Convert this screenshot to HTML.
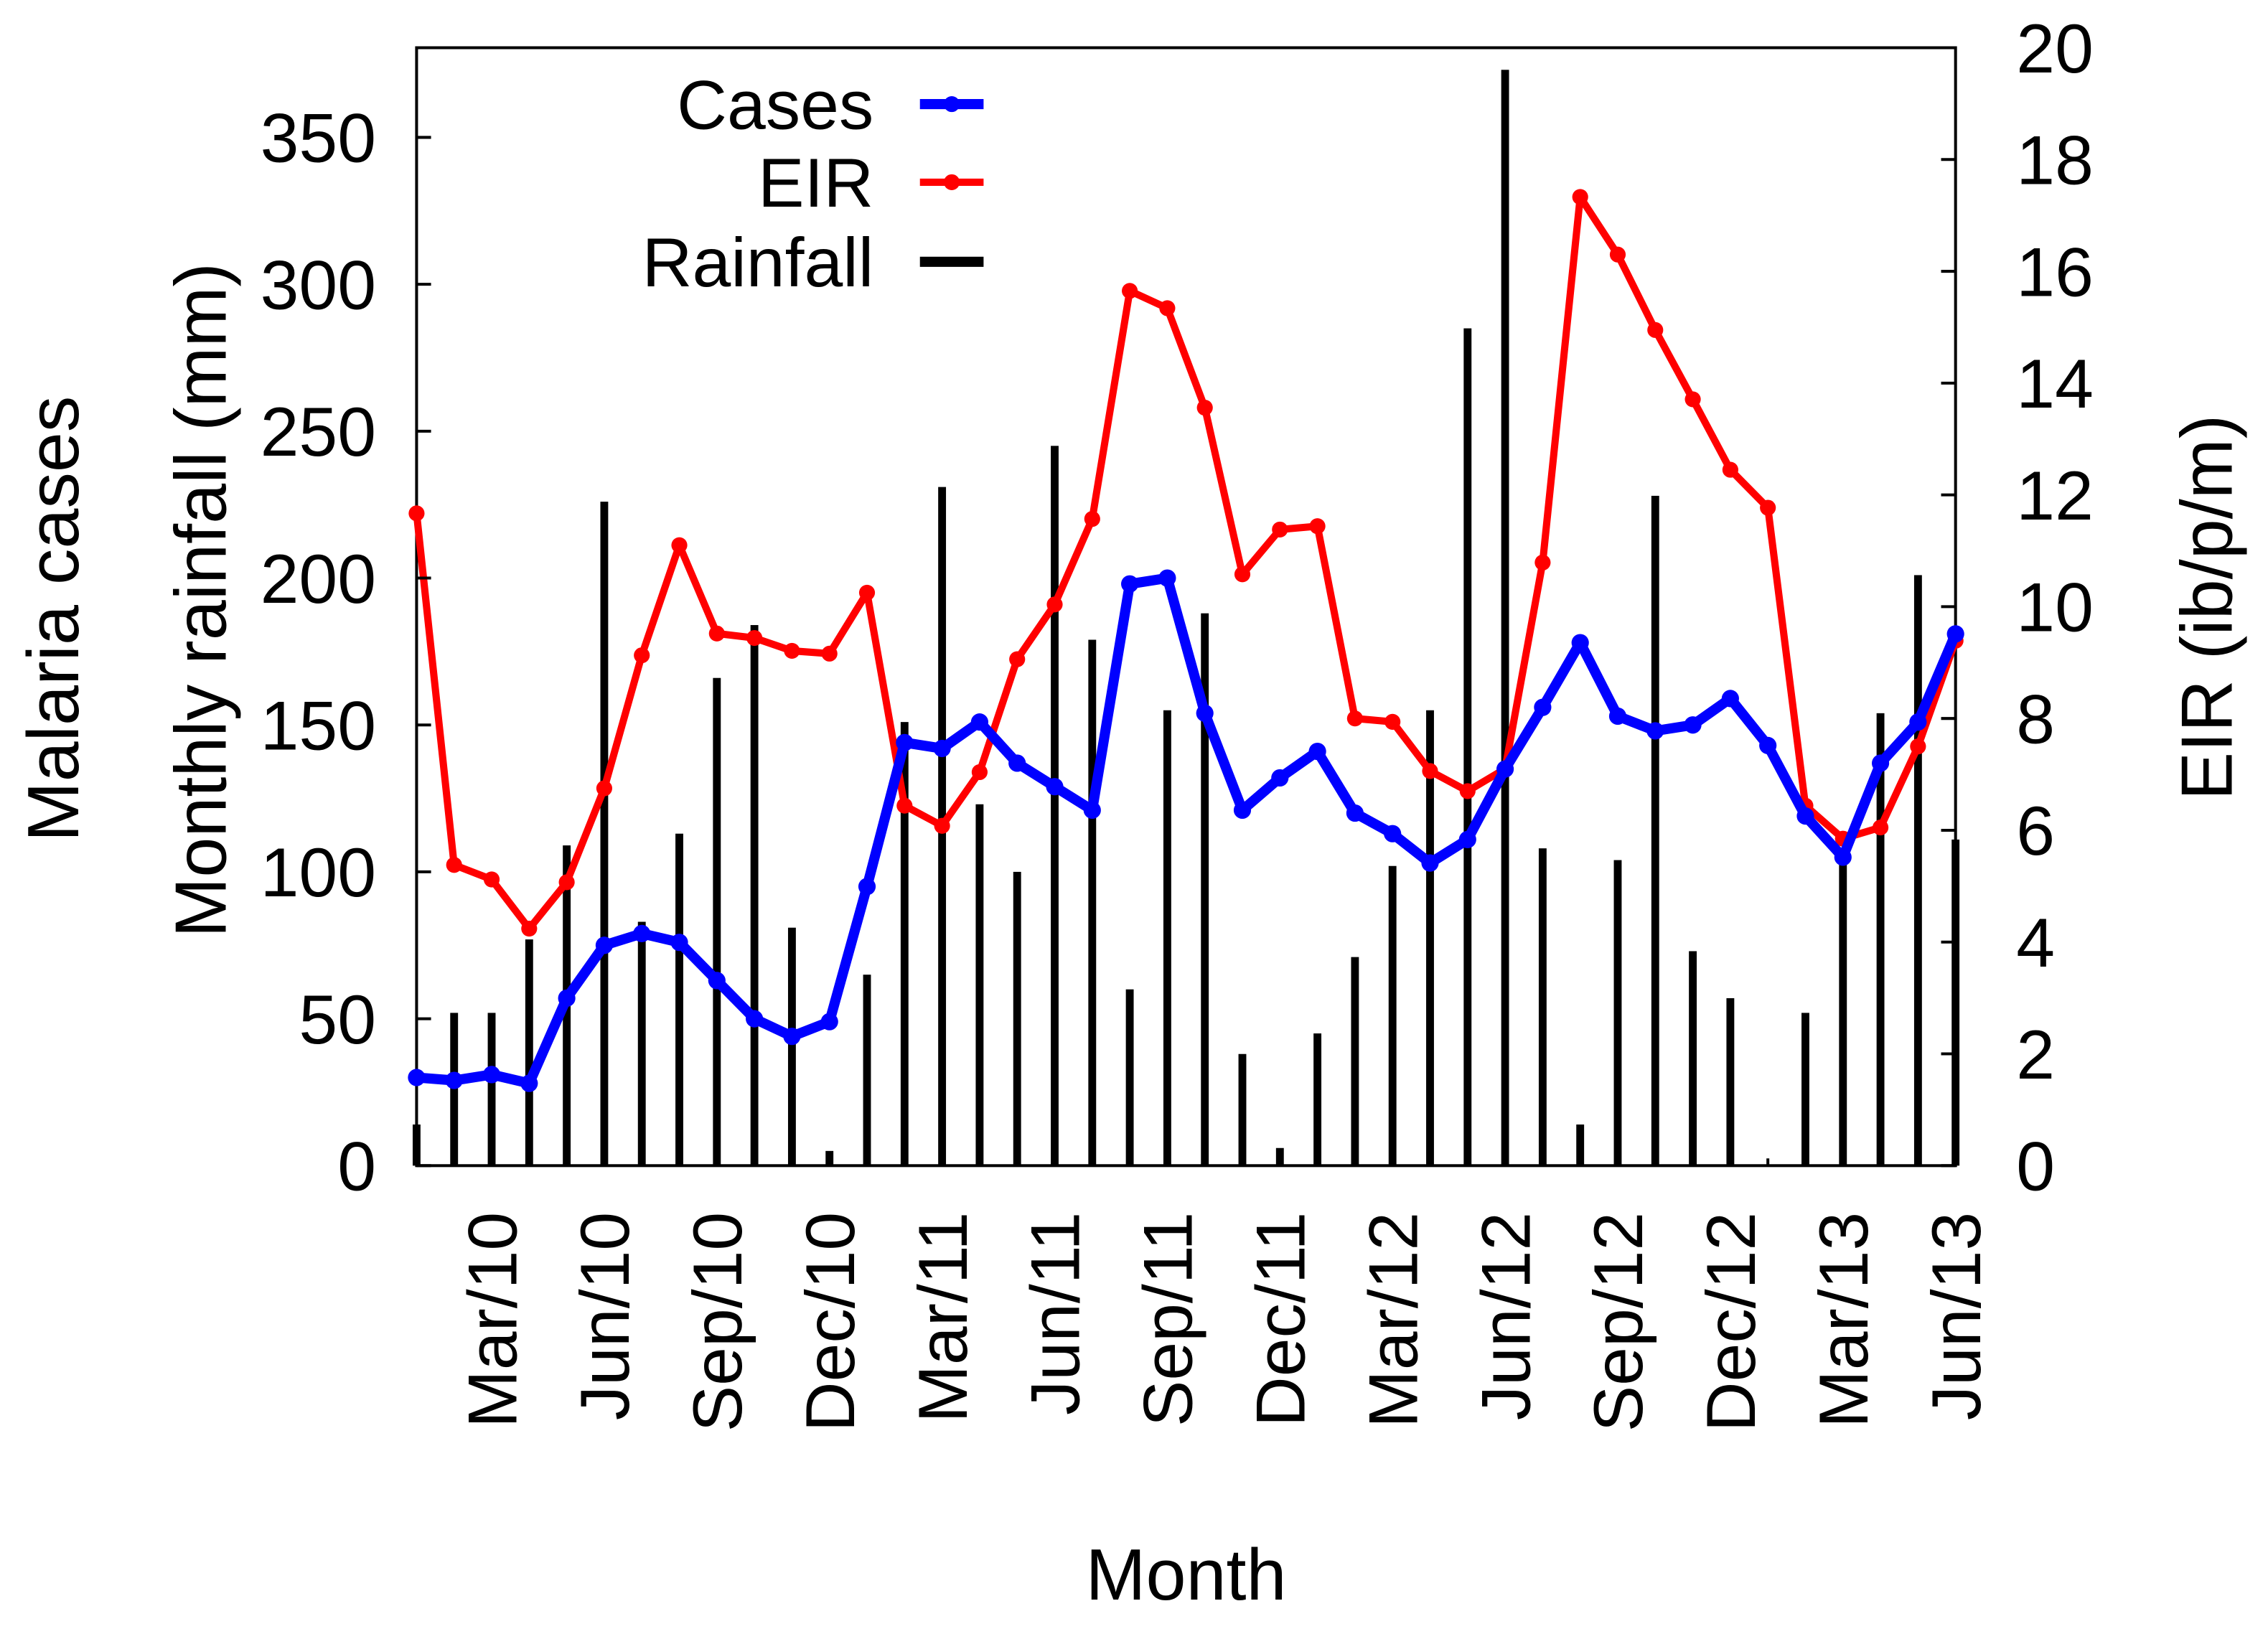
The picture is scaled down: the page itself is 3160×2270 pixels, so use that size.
<!DOCTYPE html>
<html><head><meta charset="utf-8"><style>
html,body{margin:0;padding:0;background:#fff}
svg{display:block}
text{font-family:"Liberation Sans",sans-serif;fill:#000}
</style></head><body>
<svg id="chart" width="3160" height="2270" viewBox="0 0 1568 1126.4" xmlns="http://www.w3.org/2000/svg">
<g id="bars"></g>
<g id="frame"></g>
<g id="eir"></g>
<g id="cases"></g>
<g id="axes"></g>
<g id="legend"></g>
</svg>
<script>
const months = ["Jan/10","Feb/10","Mar/10","Apr/10","May/10","Jun/10","Jul/10","Aug/10","Sep/10","Oct/10","Nov/10","Dec/10",
"Jan/11","Feb/11","Mar/11","Apr/11","May/11","Jun/11","Jul/11","Aug/11","Sep/11","Oct/11","Nov/11","Dec/11",
"Jan/12","Feb/12","Mar/12","Apr/12","May/12","Jun/12","Jul/12","Aug/12","Sep/12","Oct/12","Nov/12","Dec/12",
"Jan/13","Feb/13","Mar/13","Apr/13","May/13","Jun/13"];
const cases = [30,29,31,28,57,75,79,76,63,50,44,49,95,144,142,151,137,129,121,198,200,154,121,132,141,120,113,103,111,135,156,178,153,148,150,159,143,119,105,137,151,181];
const eir = [11.67,5.38,5.12,4.24,5.07,6.75,9.13,11.1,9.52,9.44,9.21,9.16,10.25,6.44,6.08,7.04,9.06,10.04,11.57,15.65,15.34,13.56,10.58,11.38,11.44,8.0,7.94,7.06,6.7,7.1,10.79,17.33,16.3,14.95,13.71,12.45,11.77,6.44,5.85,6.05,7.5,9.39];
const rainfall = [14,52,52,77,109,226,83,113,166,184,81,5,65,151,231,123,100,245,179,60,155,188,38,6,45,71,102,155,285,373,108,14,104,228,73,57,0,52,105,154,201,111];
const leftTicks = [0,50,100,150,200,250,300,350];
const rightTicks = [0,2,4,6,8,10,12,14,16,18,20];
const xLabelIdx = [2,5,8,11,14,17,20,23,26,29,32,35,38,41];

const L=288,R=1352,T=33,B=806;
const NS="http://www.w3.org/2000/svg";
const xs=i=>L+i*(R-L)/(months.length-1);
const yl=v=>B-v*(B-95)/350;
const yr=v=>B-v*(B-T)/20;
function mk(tag,attrs,parent,txt){const e=document.createElementNS(NS,tag);for(const k in attrs)e.setAttribute(k,attrs[k]);if(txt!==undefined)e.textContent=txt;document.getElementById(parent).appendChild(e);return e;}

rainfall.forEach((v,i)=>{
 const e=mk('rect',{x:xs(i)-2.7,y:yl(v),width:5.4,height:B-yl(v),fill:'#000'},'bars');
 
 
});
mk('rect',{x:L,y:T,width:R-L,height:B-T,fill:'none',stroke:'#000','stroke-width':2},'frame');

function series(vals,yf,g,color,w,r,name){
 const pts=vals.map((v,i)=>xs(i)+','+yf(v)).join(' ');
 mk('polyline',{points:pts,fill:'none',stroke:color,'stroke-width':w,'stroke-linejoin':'round'},g);
 vals.forEach((v,i)=>{const c=mk('circle',{cx:xs(i),cy:yf(v),r:r,fill:color},g);
  
  });
}
series(eir,yr,'eir','#ff0000',5,5.5,'eir-point');
series(cases,yl,'cases','#0000ff',7,6,'cases-point');

leftTicks.forEach(v=>{
 mk('line',{x1:L,x2:L+10,y1:yl(v),y2:yl(v),stroke:'#000','stroke-width':2},'axes');
 const t=mk('text',{x:L-28,y:yl(v)+17,'font-size':48,'text-anchor':'end'},'axes',v);
 
 
});
rightTicks.forEach(v=>{
 mk('line',{x1:R-10,x2:R,y1:yr(v),y2:yr(v),stroke:'#000','stroke-width':2},'axes');
 const t=mk('text',{x:R+42,y:yr(v)+17,'font-size':48},'axes',v);
 
 
});
months.forEach((m,i)=>{mk('line',{x1:xs(i),x2:xs(i),y1:B,y2:B-5,stroke:'#000','stroke-width':2},'axes');});
xLabelIdx.forEach(i=>{
 const x=xs(i)+17;
 const t=mk('text',{x:x,y:838,'font-size':48,'text-anchor':'end',transform:`rotate(-90 ${x} 838)`},'axes',months[i]);
 
 
});
let t;
t=mk('text',{x:820,y:1106,'font-size':50,'text-anchor':'middle'},'axes','Month');

t=mk('text',{x:54,y:428,'font-size':50,'text-anchor':'middle',transform:'rotate(-90 54 428)'},'axes','Malaria cases');

t=mk('text',{x:156,y:415,'font-size':50,'text-anchor':'middle',transform:'rotate(-90 156 415)'},'axes','Monthly rainfall (mm)');

t=mk('text',{x:1543,y:420,'font-size':50,'text-anchor':'middle',transform:'rotate(-90 1543 420)'},'axes','EIR (ib/p/m)');


[["Cases","#0000ff",72,7,true],["EIR","#ff0000",126,5,true],["Rainfall","#000",181,7,false]].forEach(([n,c,y,w,dot])=>{
 const tt=mk('text',{x:604,y:y+17,'font-size':48,'text-anchor':'end'},'legend',n);
 
 
 mk('line',{x1:636,x2:680,y1:y,y2:y,stroke:c,'stroke-width':w},'legend');
 if(dot)mk('circle',{cx:658,cy:y,r:5.5,fill:c},'legend');
});
</script>
</body></html>
